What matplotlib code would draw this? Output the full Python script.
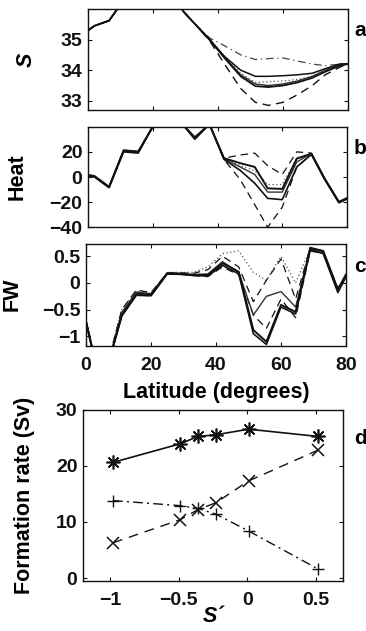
import matplotlib
matplotlib.use("Agg")
import matplotlib.pyplot as plt
import numpy as np

plt.rcParams['font.family'] = ['Liberation Sans', 'DejaVu Sans']
plt.rcParams['font.weight'] = 'bold'

# ---------------- data ----------------
lat = [0, 2, 6.5, 11, 15.5, 20, 25, 29.5, 33, 37.5, 42, 47, 51.5, 55.5, 60, 64.5, 69, 73, 77.5, 80]

# panel a: salinity
s_solid1 = [35.3, 35.45, 35.62, 36.3, 36.7, 36.9, 36.6, 35.9, 35.5, 35.0, 34.45, 34.0, 33.8, 33.8, 33.82, 33.85, 33.9, 34.05, 34.2, 34.2]
s_solid2 = [35.3, 35.45, 35.62, 36.3, 36.7, 36.9, 36.6, 35.9, 35.5, 34.98, 34.4, 33.8, 33.48, 33.45, 33.5, 33.6, 33.75, 33.95, 34.15, 34.2]
s_solid3 = [35.3, 35.45, 35.62, 36.3, 36.7, 36.9, 36.6, 35.9, 35.5, 34.99, 34.42, 33.85, 33.55, 33.5, 33.55, 33.65, 33.8, 34.0, 34.2, 34.22]
s_dashdot = [35.3, 35.45, 35.62, 36.3, 36.7, 36.9, 36.6, 35.9, 35.5, 35.05, 34.8, 34.5, 34.35, 34.38, 34.4, 34.3, 34.2, 34.15, 34.2, 34.2]
s_dashed = [35.3, 35.45, 35.62, 36.3, 36.7, 36.9, 36.6, 35.9, 35.5, 34.95, 34.2, 33.4, 32.95, 32.85, 32.95, 33.2, 33.5, 33.85, 34.1, 34.2]
s_dotted = [35.3, 35.45, 35.62, 36.3, 36.7, 36.9, 36.6, 35.9, 35.5, 35.0, 34.45, 33.9, 33.6, 33.62, 33.65, 33.7, 33.8, 34.0, 34.18, 34.2]

# panel b: heat
h_solid1 = [1.4, 0.5, -8, 21, 20, 40, 50, 41, 31, 42, 15, 11, 8, -9, -9.5, 14.7, 18.5, -1, -20, -17]
h_solid2 = [1.0, 0.0, -8.5, 20, 19, 40, 50, 41, 30, 42, 14, 5.3, -5, -17, -18, 8, 18, -1.5, -20.5, -17.5]
h_solid3 = [2.0, 1.0, -7.5, 21.5, 20.5, 40, 50, 41, 32, 42, 14.5, 8, 2, -12, -12, 12, 18.7, -0.5, -19.5, -16.5]
h_dashed = [1.4, 0.5, -8, 21, 20, 40, 50, 41, 31, 42, 15, 17.5, 19, 9, 2, 20, 19, -1, -20, -17]
h_dashed2 = [1.4, 0.5, -8, 21, 20, 40, 50, 41, 31, 42, 14, -2, -22, -40, -24, 8, 18, -1, -20, -17]
h_dotted = [1.4, 0.5, -8, 21, 20, 40, 50, 41, 31, 42, 15, 9, 5, -6, -6, 15, 18.5, -1, -20, -17]

# panel c: freshwater
f_solid1 = [-0.72, -1.25, -1.6, -0.6, -0.2, -0.22, 0.18, 0.17, 0.15, 0.15, 0.37, 0.21, -0.88, -1.1, -0.41, -0.54, 0.66, 0.6, -0.12, 0.16]
f_solid2 = [-0.74, -1.27, -1.6, -0.62, -0.23, -0.24, 0.17, 0.16, 0.14, 0.13, 0.33, 0.17, -0.95, -1.15, -0.45, -0.58, 0.62, 0.55, -0.18, 0.12]
f_solid3 = [-0.7, -1.23, -1.58, -0.55, -0.17, -0.2, 0.19, 0.18, 0.16, 0.17, 0.4, 0.2, -0.6, -0.25, -0.16, -0.45, 0.63, 0.58, -0.15, 0.14]
f_dashed = [-0.7, -1.22, -1.55, -0.5, -0.13, -0.18, 0.19, 0.19, 0.18, 0.25, 0.5, 0.3, -0.35, 0.05, 0.45, -0.3, 0.65, 0.58, -0.1, 0.15]
f_dashed2 = [-0.72, -1.25, -1.6, -0.62, -0.22, -0.24, 0.17, 0.16, 0.14, 0.12, 0.3, 0.15, -0.6, -0.85, -0.3, -0.65, 0.6, 0.55, -0.15, 0.12]
f_dotted = [-0.7, -1.2, -1.55, -0.5, -0.15, -0.2, 0.2, 0.2, 0.2, 0.3, 0.55, 0.6, 0.2, 0.05, 0.5, 0.0, 0.65, 0.6, -0.1, 0.15]

# panel d: formation rate vs S'
s_prime = [-0.98, -0.49, -0.36, -0.23, 0.01, 0.52]
rate_total = [20.6, 23.9, 25.2, 25.5, 26.5, 25.2]
rate_cross = [6.3, 10.4, 12.2, 13.4, 17.3, 22.8]
rate_plus = [13.8, 12.9, 12.4, 11.4, 8.4, 1.6]

lat_ticks = [0, 20, 40, 60, 80]

# ---------------- figure ----------------
W, H = 366, 631
fig = plt.figure(figsize=(W / 100, H / 100), dpi=100)

def rect(l, r, t, b):
    return [l / W, 1 - b / H, (r - l) / W, (b - t) / H]

ax_a = fig.add_axes(rect(88, 348, 9, 110))
ax_b = fig.add_axes(rect(88, 347, 126.7, 227.3))
ax_c = fig.add_axes(rect(86, 346, 244, 345.5))
ax_d = fig.add_axes(rect(83, 343, 409.5, 581))

k = '#111111'
dash = (0, (6, 4))
dashdot = (0, (6, 3, 1, 3))
dot = (0, (1, 2))
TS = 14     # tick label size
LS = 15.5   # axis label size

def style(ax, xpad=3):
    ax.tick_params(direction='in', top=True, right=True, length=3, width=0.8,
                   labelsize=TS, colors=k)
    ax.tick_params(axis='y', pad=4)
    ax.tick_params(axis='x', pad=xpad)
    for sp in ax.spines.values():
        sp.set_linewidth(1.0)
        sp.set_color(k)
    for lb in ax.get_xticklabels() + ax.get_yticklabels():
        lb.set_fontweight('bold')

# panel a
for y, ls, lw, c in [(s_dotted, dot, 0.9, '#555555'), (s_dashdot, dashdot, 0.9, '#444444'),
                     (s_dashed, dash, 1.0, k), (s_solid3, '-', 1.0, '#333333'),
                     (s_solid1, '-', 1.1, k), (s_solid2, '-', 1.3, k)]:
    ax_a.plot(lat, y, ls=ls, lw=lw, color=c)
ax_a.set_xlim(0, 80)
ax_a.set_ylim(32.7, 36.0)
ax_a.set_xticks(lat_ticks)
ax_a.set_xticklabels([])
ax_a.set_yticks([33, 34, 35])
ax_a.set_ylabel('S', fontsize=LS, fontweight='bold', style='italic')
ax_a.yaxis.set_label_coords((37 - 88) / 260, 0.5)
style(ax_a)

# panel b
for y, ls, lw, c in [(h_dotted, dot, 0.9, '#555555'), (h_dashed, dash, 0.9, k),
                     (h_dashed2, dash, 0.9, k), (h_solid3, '-', 1.0, '#333333'),
                     (h_solid2, '-', 1.2, k), (h_solid1, '-', 1.4, k)]:
    ax_b.plot(lat, y, ls=ls, lw=lw, color=c)
ax_b.set_xlim(0, 80)
ax_b.set_ylim(-40, 40)
ax_b.set_xticks(lat_ticks)
ax_b.set_xticklabels([])
ax_b.set_yticks([-40, -20, 0, 20])
ax_b.set_yticklabels(['\u221240', '\u221220', '0', '20'])
ax_b.set_ylabel('Heat', fontsize=LS, fontweight='bold')
ax_b.yaxis.set_label_coords((28 - 88) / 259, 0.5)
style(ax_b)

# panel c
for y, ls, lw, c in [(f_dotted, dot, 0.9, '#555555'), (f_dashed, dash, 0.9, k),
                     (f_dashed2, dash, 0.9, k), (f_solid3, '-', 1.0, '#333333'),
                     (f_solid2, '-', 1.2, k), (f_solid1, '-', 1.4, k)]:
    ax_c.plot(lat, y, ls=ls, lw=lw, color=c)
ax_c.set_xlim(0, 80)
ax_c.set_ylim(-1.17, 0.73)
ax_c.set_xticks(lat_ticks)
ax_c.set_yticks([-1, -0.5, 0, 0.5])
ax_c.set_yticklabels(['\u22121', '\u22120.5', '0', '0.5'])
ax_c.set_ylabel('FW', fontsize=LS, fontweight='bold')
ax_c.yaxis.set_label_coords((23 - 86) / 260, 0.5)
ax_c.set_xlabel('Latitude (degrees)', fontsize=LS, fontweight='bold', labelpad=6)
style(ax_c, xpad=8)

# panel d
ax_d.plot(s_prime, rate_total, '-', color=k, lw=1.2, marker=(8, 2, 0), ms=10, mew=1.2)
ax_d.plot(s_prime, rate_cross, ls=(0, (7, 5)), color=k, lw=1.0, marker='x', ms=8, mew=1.1)
ax_d.plot(s_prime, rate_plus, ls=(0, (7, 3, 1.5, 3)), color=k, lw=1.0, marker='+', ms=8, mew=1.0)
ax_d.set_xlim(-1.2, 0.7)
ax_d.set_ylim(-0.5, 30)
ax_d.set_xticks([-1, -0.5, 0, 0.5])
ax_d.set_xticklabels(['\u22121', '\u22120.5', '0', '0.5'])
ax_d.set_yticks([0, 10, 20, 30])
ax_d.set_ylabel('Formation rate (Sv)', fontsize=LS, fontweight='bold')
ax_d.yaxis.set_label_coords((35 - 83) / 260, 0.5)
ax_d.set_xlabel('S\u00b4', fontsize=LS, fontweight='bold', style='italic', labelpad=-2)
style(ax_d, xpad=8)

# panel letters
for ax, letter, yy in [(ax_a, 'a', 31), (ax_b, 'b', 149), (ax_c, 'c', 266), (ax_d, 'd', 438)]:
    fig.text(354 / W, 1 - yy / H, letter, fontsize=15, fontweight='bold', ha='left', va='center')

fig.savefig('out.png', dpi=100)
